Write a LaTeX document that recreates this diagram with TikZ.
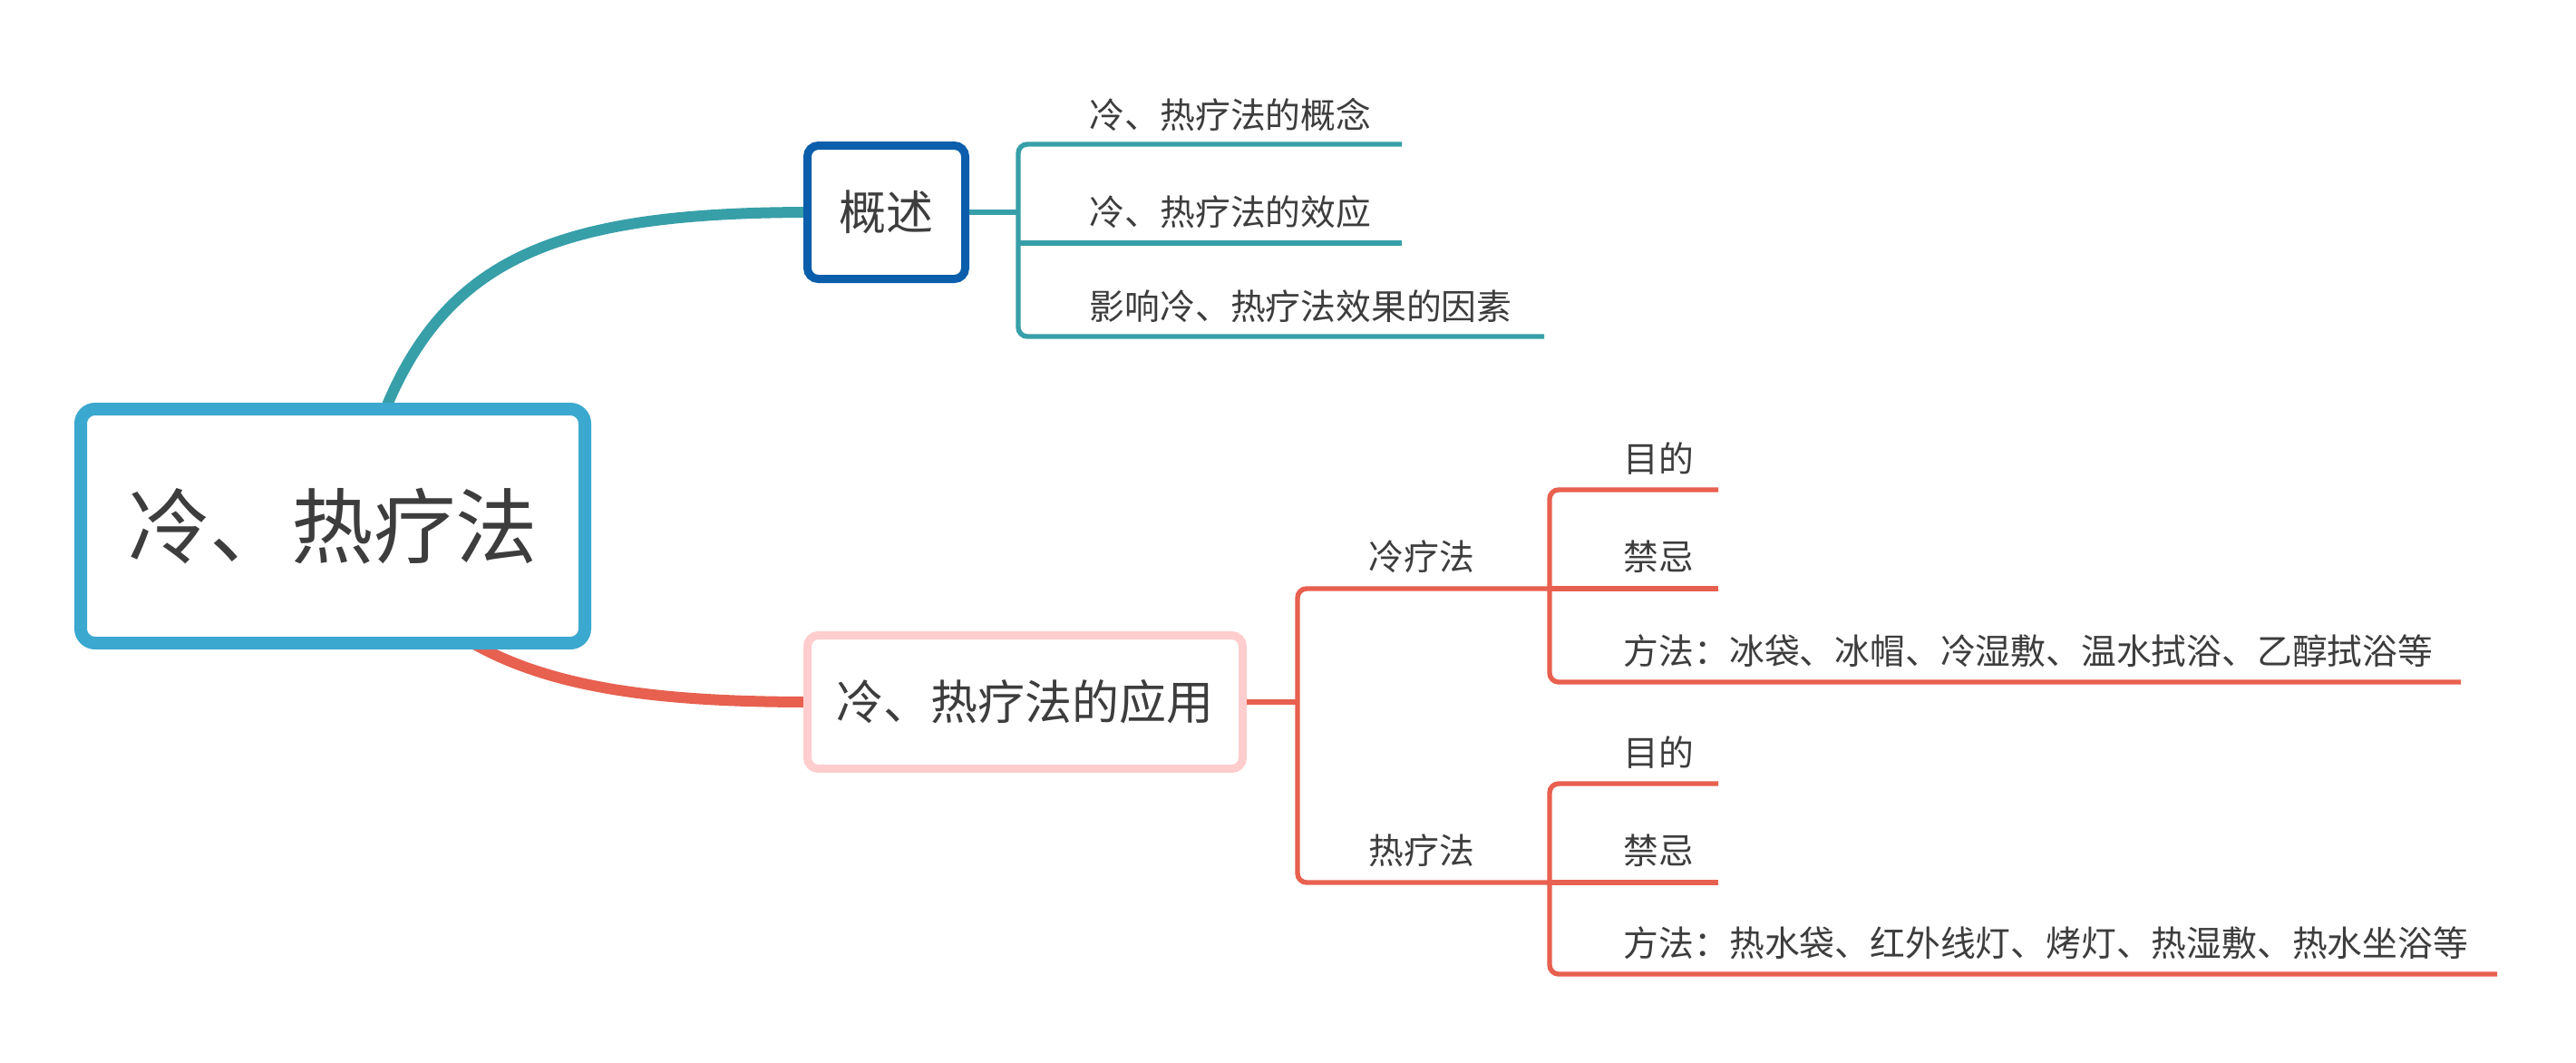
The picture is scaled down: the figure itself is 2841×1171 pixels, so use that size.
\documentclass[tikz,border=0pt]{standalone}
\usepackage{fontspec}
\setmainfont{Noto Sans CJK SC}
\usetikzlibrary{calc}
\definecolor{rootblue}{HTML}{3BA8CF}
\definecolor{darkblue}{HTML}{0A5EAB}
\definecolor{pinkb}{HTML}{FFCDCD}
\definecolor{tealc}{HTML}{379FA8}
\definecolor{redc}{HTML}{E8604F}
\definecolor{txt}{HTML}{3D3D3D}
\pgfdeclarelayer{background}
\pgfsetlayers{background,main}
\tikzset{
  rootbox/.style={draw=rootblue, line width=3.5pt, fill=white, rounded corners=4pt,
    minimum width=139pt, minimum height=64.5pt, inner sep=0pt, font=\fontsize{22.6}{26}\selectfont, text=txt},
  midbox/.style={draw=#1, line width=2.25pt, fill=white, rounded corners=3pt,
    minimum height=36.75pt, inner sep=0pt, font=\fontsize{13}{16}\selectfont, text=txt},
  leaf/.style={anchor=west, inner sep=0pt, font=\fontsize{9.7}{12}\selectfont, text=txt},
  mainline/.style={line width=3pt, draw=#1},
  branch/.style={line width=1.35pt, draw=#1, rounded corners=2.5pt},
}
\begin{document}
\begin{tikzpicture}[x=0.25pt,y=-0.25pt]
\useasboundingbox (0,0) rectangle (2841,1171);

% main nodes
\node[rootbox] (root) at (367,580) {冷、热疗法};
\node[midbox=darkblue, minimum width=43.5pt] (gs) at (977.5,234) {概述};
\node[midbox=pinkb, minimum width=120pt] (app) at (1130.5,774) {冷、热疗法的应用};

% leaf texts (teal)
\node[leaf] (t1) at (1201,126) {冷、热疗法的概念};
\node[leaf] (t2) at (1201,234) {冷、热疗法的效应};
\node[leaf] (t3) at (1201,338) {影响冷、热疗法效果的因素};

% red texts
\node[leaf] (cold) at (1509,614) {冷疗法};
\node[leaf] (hot) at (1509,938) {热疗法};
\node[leaf] (c1) at (1790,506) {目的};
\node[leaf] (c2) at (1790,614) {禁忌};
\node[leaf] (c3) at (1790,718) {方法：冰袋、冰帽、冷湿敷、温水拭浴、乙醇拭浴等};
\node[leaf] (h1) at (1790,830) {目的};
\node[leaf] (h2) at (1790,938) {禁忌};
\node[leaf] (h3) at (1790,1040) {方法：热水袋、红外线灯、烤灯、热湿敷、热水坐浴等};

% coordinates
\coordinate (tj) at (1123,234);
\coordinate (t1e) at (1546,159);
\coordinate (t2e) at (1546,268);
\coordinate (t3e) at (1703,371);
\coordinate (rj) at (1431,774);
\coordinate (cj) at (1709,649);
\coordinate (hj) at (1709,973);
\coordinate (c1e) at (1895,540);
\coordinate (c2e) at (1895,649);
\coordinate (c3e) at (2714,752);
\coordinate (h1e) at (1895,864);
\coordinate (h2e) at (1895,973);
\coordinate (h3e) at (2754,1074);

\begin{pgfonlayer}{background}
\fill[white] (0,0) rectangle (2841,1171);
\draw[mainline=tealc] ($(root.north)+(53,20)$) .. controls (490,280) and (620,234) .. ($(gs.west)+(10,0)$);
\draw[mainline=redc] ($(root.south)+(149,-10)$) .. controls (610,762) and (740,774) .. ($(app.west)+(10,0)$);
\end{pgfonlayer}

% teal bracket
\draw[branch=tealc] (gs.east) -- (tj);
\draw[branch=tealc] (t1e) -- (tj |- t1e) -- (tj |- t3e) -- (t3e);
\draw[branch=tealc] (tj |- t2e) -- (t2e);

% red brackets
\draw[branch=redc] (app.east) -- (rj);
\draw[branch=redc] (cj) -- (rj |- cj) -- (rj |- hj) -- (hj);
\draw[branch=redc] (c1e) -- (cj |- c1e) -- (cj |- c3e) -- (c3e);
\draw[branch=redc] (cj) -- (c2e);
\draw[branch=redc] (h1e) -- (hj |- h1e) -- (hj |- h3e) -- (h3e);
\draw[branch=redc] (hj) -- (h2e);
\end{tikzpicture}
\end{document}
